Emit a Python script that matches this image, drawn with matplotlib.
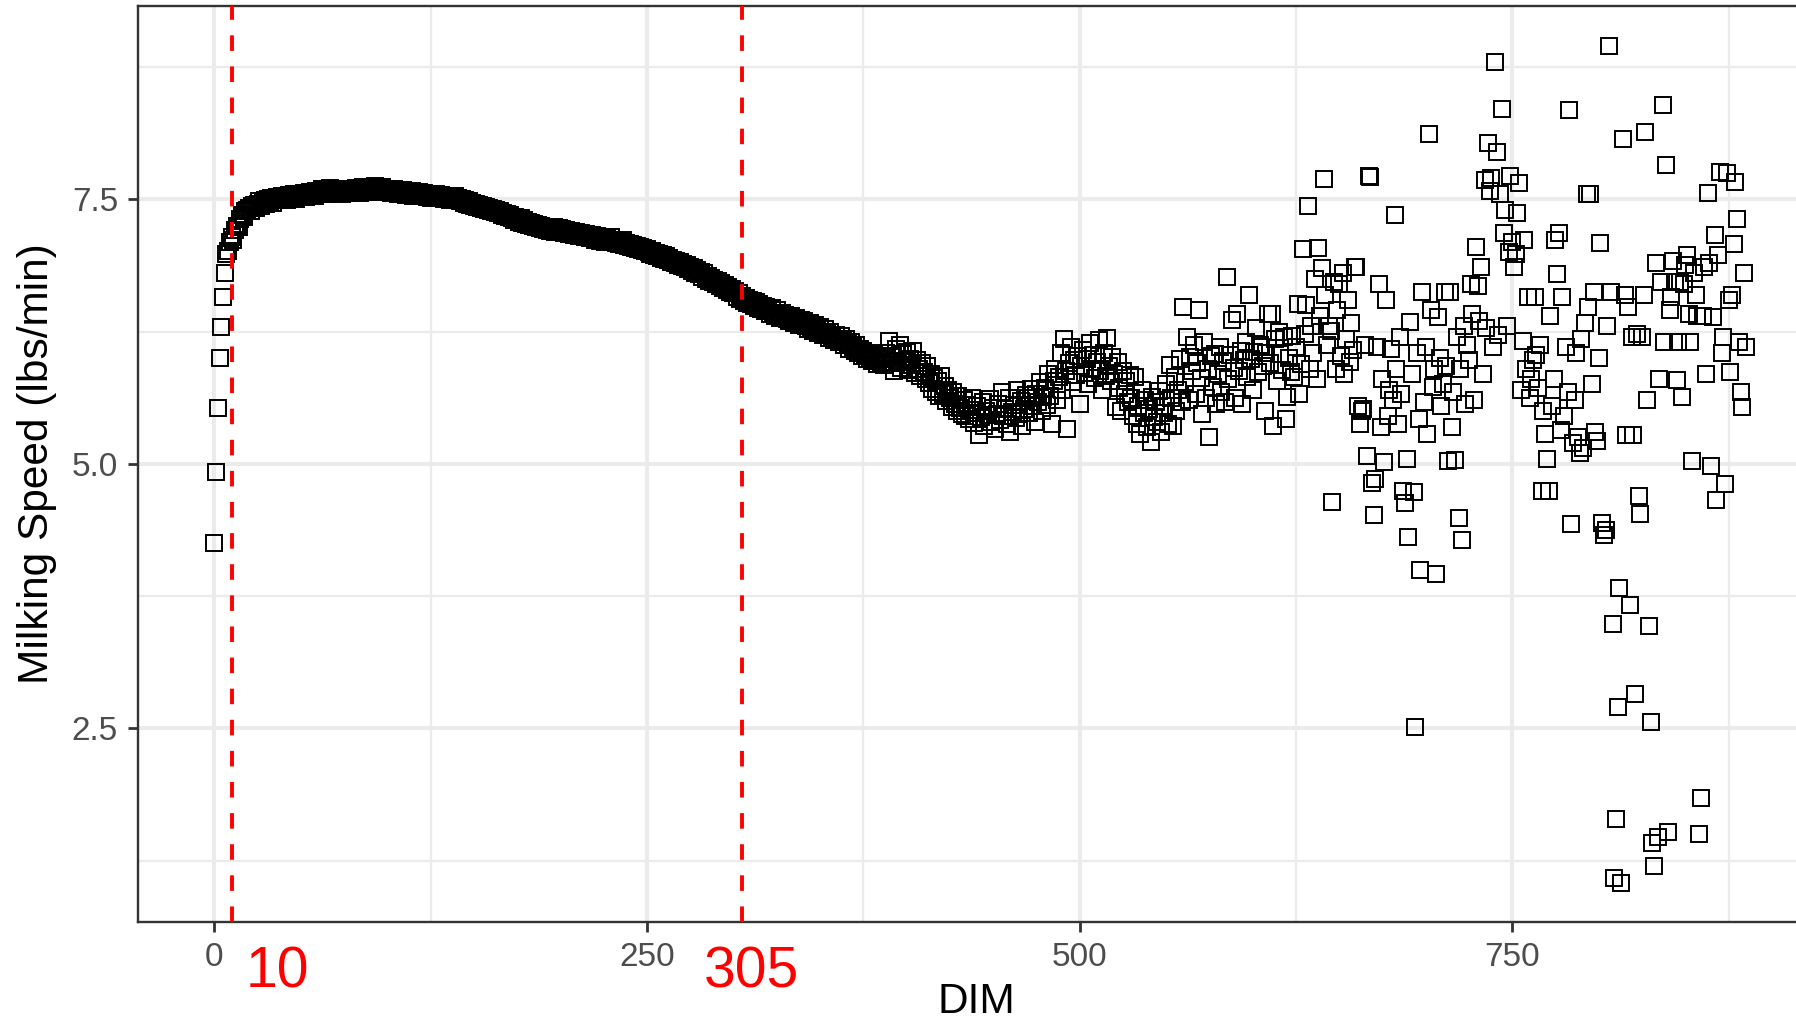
import numpy as np
import matplotlib
matplotlib.use("Agg")
from matplotlib import pyplot as plt
from matplotlib.transforms import blended_transform_factory

plt.rcParams["font.family"] = ["Liberation Sans", "DejaVu Sans"]

# milking speed (lbs/min), one record per DIM starting at 0
speed = [
    4.25, 4.92, 5.53, 6.00, 6.29, 6.58, 6.80, 6.98, 7.01, 7.10,
    7.14, 7.12, 7.21, 7.25, 7.24, 7.31, 7.35, 7.33, 7.39, 7.40,
    7.42, 7.39, 7.44, 7.45, 7.42, 7.46, 7.48, 7.44, 7.47, 7.49,
    7.46, 7.50, 7.48, 7.51, 7.47, 7.50, 7.52, 7.49, 7.51, 7.53,
    7.50, 7.52, 7.49, 7.54, 7.51, 7.53, 7.55, 7.50, 7.54, 7.52,
    7.55, 7.53, 7.56, 7.52, 7.55, 7.57, 7.54, 7.56, 7.53, 7.58,
    7.55, 7.57, 7.60, 7.56, 7.58, 7.55, 7.59, 7.61, 7.57, 7.58,
    7.60, 7.56, 7.59, 7.58, 7.55, 7.57, 7.59, 7.56, 7.58, 7.60,
    7.57, 7.59, 7.61, 7.58, 7.56, 7.60, 7.62, 7.59, 7.57, 7.60,
    7.58, 7.61, 7.59, 7.63, 7.60, 7.57, 7.59, 7.62, 7.58, 7.60,
    7.57, 7.59, 7.56, 7.58, 7.60, 7.57, 7.55, 7.58, 7.56, 7.59,
    7.56, 7.54, 7.57, 7.55, 7.58, 7.53, 7.56, 7.54, 7.57, 7.55,
    7.53, 7.56, 7.54, 7.52, 7.55, 7.51, 7.54, 7.52, 7.55, 7.53,
    7.51, 7.54, 7.52, 7.50, 7.53, 7.51, 7.49, 7.52, 7.50, 7.53,
    7.49, 7.51, 7.48, 7.50, 7.47, 7.49, 7.46, 7.48, 7.45, 7.47,
    7.44, 7.46, 7.43, 7.45, 7.42, 7.44, 7.41, 7.43, 7.40, 7.42,
    7.39, 7.41, 7.38, 7.40, 7.37, 7.39, 7.35, 7.37, 7.34, 7.36,
    7.33, 7.35, 7.32, 7.30, 7.33, 7.31, 7.29, 7.32, 7.28, 7.30,
    7.27, 7.29, 7.26, 7.28, 7.25, 7.27, 7.24, 7.26, 7.23, 7.25,
    7.22, 7.24, 7.21, 7.23, 7.20, 7.22, 7.24, 7.19, 7.21, 7.23,
    7.20, 7.22, 7.18, 7.21, 7.19, 7.17, 7.20, 7.18, 7.16, 7.19,
    7.17, 7.15, 7.18, 7.16, 7.14, 7.17, 7.15, 7.13, 7.16, 7.14,
    7.12, 7.15, 7.13, 7.11, 7.14, 7.12, 7.10, 7.13, 7.11, 7.14,
    7.10, 7.12, 7.09, 7.11, 7.08, 7.10, 7.12, 7.07, 7.09, 7.06,
    7.08, 7.05, 7.07, 7.04, 7.06, 7.03, 7.05, 7.02, 7.04, 7.01,
    7.03, 7.00, 6.98, 7.01, 6.97, 6.99, 6.96, 6.98, 6.95, 6.97,
    6.94, 6.96, 6.93, 6.95, 6.91, 6.93, 6.90, 6.92, 6.88, 6.91,
    6.87, 6.89, 6.86, 6.88, 6.84, 6.86, 6.82, 6.85, 6.80, 6.83,
    6.79, 6.81, 6.77, 6.80, 6.75, 6.78, 6.73, 6.76, 6.72, 6.74,
    6.70, 6.73, 6.68, 6.71, 6.66, 6.69, 6.64, 6.67, 6.62, 6.65,
    6.61, 6.63, 6.58, 6.61, 6.56, 6.59, 6.54, 6.57, 6.52, 6.55,
    6.51, 6.54, 6.49, 6.53, 6.47, 6.51, 6.46, 6.49, 6.44, 6.48,
    6.45, 6.42, 6.47, 6.43, 6.40, 6.45, 6.41, 6.38, 6.43, 6.39,
    6.41, 6.37, 6.35, 6.40, 6.36, 6.33, 6.38, 6.34, 6.31, 6.36,
    6.32, 6.35, 6.30, 6.27, 6.33, 6.29, 6.26, 6.31, 6.27, 6.24,
    6.29, 6.25, 6.22, 6.27, 6.23, 6.19, 6.25, 6.21, 6.17, 6.22,
    6.18, 6.15, 6.21, 6.16, 6.12, 6.18, 6.13, 6.09, 6.15, 6.10,
    6.07, 6.12, 6.05, 6.09, 6.02, 6.07, 6.03, 5.99, 6.05, 6.01,
    5.97, 6.03, 5.98, 5.94, 6.02, 5.96, 6.00, 5.93, 6.05, 5.99,
    6.16, 5.95, 6.02, 5.88, 6.09, 5.97, 6.12, 5.91, 6.04, 5.96,
    6.06, 5.89, 5.99, 5.93, 6.07, 5.86, 5.98, 5.90, 5.83, 5.95,
    5.87, 5.80, 5.92, 5.76, 5.85, 5.71, 5.81, 5.68, 5.78, 5.64,
    5.83, 5.66, 5.74, 5.59, 5.70, 5.62, 5.54, 5.68, 5.57, 5.50,
    5.64, 5.53, 5.47, 5.60, 5.45, 5.56, 5.42, 5.51, 5.62, 5.39,
    5.48, 5.55, 5.27, 5.44, 5.58, 5.36, 5.50, 5.46, 5.61, 5.40,
    5.53, 5.33, 5.47, 5.57, 5.41, 5.68, 5.45, 5.52, 5.38, 5.62,
    5.30, 5.49, 5.56, 5.43, 5.70, 5.47, 5.59, 5.36, 5.52, 5.65,
    5.62, 5.48, 5.71, 5.55, 5.40, 5.66, 5.58, 5.77, 5.50, 5.63,
    5.72, 5.56, 5.85, 5.64, 5.38, 5.78, 5.90, 5.60, 5.82, 6.05,
    5.70, 6.18, 5.88, 5.33, 5.95, 6.10, 5.77, 5.98, 5.84, 6.02,
    5.57, 5.92, 6.08, 5.86, 5.99, 5.75, 6.14, 5.90, 6.03, 5.81,
    5.96, 6.17, 5.88, 5.70, 6.05, 5.83, 6.19, 5.92, 5.78, 6.01,
    5.85, 5.54, 5.96, 5.72, 5.50, 5.88, 5.66, 5.78, 5.58, 5.84,
    5.62, 5.45, 5.82, 5.38, 5.55, 5.28, 5.70, 5.48, 5.60, 5.35,
    5.52, 5.21, 5.63, 5.44, 5.58, 5.40, 5.69, 5.30, 5.55, 5.48,
    5.75, 5.38, 5.93, 5.62, 5.36, 5.82, 5.50, 5.70, 5.99, 5.58,
    6.48, 5.77, 6.20, 5.60, 6.01, 5.88, 6.12, 5.66, 5.95, 6.45,
    5.81, 5.47, 6.15, 5.62, 5.90, 5.25, 6.02, 5.73, 6.04, 5.57,
    5.85, 6.10, 5.68, 5.97, 5.58, 6.77, 5.80, 6.03, 6.36, 5.91,
    5.62, 6.42, 5.88, 6.07, 5.57, 5.98, 6.15, 5.82, 6.60, 5.99,
    5.70, 6.06, 6.28, 5.87, 6.12, 6.10, 5.92, 5.50, 6.05, 6.42,
    5.95, 6.42, 5.36, 6.18, 5.78, 6.25, 6.04, 5.89, 6.20, 5.42,
    5.63, 6.00, 5.87, 6.21, 5.82, 6.10, 6.51, 5.66, 5.94, 7.03,
    6.23, 6.50, 7.44, 5.90, 6.30, 6.05, 6.75, 5.80, 7.04, 6.40,
    6.85, 7.69, 6.60, 6.12, 6.30, 6.26, 4.64, 6.72, 5.90, 6.45,
    6.70, 6.02, 6.80, 5.85, 6.18, 6.55, 5.96, 6.33, 6.08, 6.86,
    6.86, 5.55, 5.38, 5.50, 5.52, 6.12, 5.07, 7.72, 7.71, 4.82,
    4.52, 4.86, 6.10, 6.70, 5.35, 5.80, 5.02, 6.55, 5.45, 5.70,
    6.09, 5.60, 7.35, 5.90, 5.38, 6.20, 5.66, 4.74, 4.63, 5.05,
    4.31, 6.34, 5.85, 4.73, 2.51, 6.05, 5.42, 4.00, 6.62, 5.58,
    6.10, 5.28, 8.12, 6.45, 5.73, 5.90, 3.96, 6.39, 6.00, 5.55,
    5.75, 6.62, 5.92, 5.03, 6.62, 5.35, 5.68, 5.04, 6.20, 4.49,
    5.90, 4.28, 6.30, 5.57, 6.12, 5.98, 6.70, 6.42, 5.60, 7.05,
    6.68, 6.35, 6.86, 5.85, 7.68, 6.28, 8.03, 7.58, 7.70, 6.10,
    8.80, 7.95, 6.22, 7.55, 8.35, 7.18, 7.40, 6.30, 7.00, 7.72,
    7.10, 6.86, 6.98, 7.37, 7.65, 5.70, 6.16, 7.12, 5.90, 6.58,
    5.62, 5.80, 5.98, 6.58, 6.03, 5.72, 6.12, 4.74, 5.50, 5.28,
    5.05, 4.74, 6.40, 5.55, 5.80, 7.12, 6.79, 7.18, 5.32, 6.58,
    5.45, 6.10, 5.68, 8.34, 4.43, 5.20, 5.60, 6.05, 5.25, 5.10,
    6.18, 5.15, 6.33, 7.55, 6.48, 7.55, 5.75, 6.62, 5.30, 5.22,
    6.00, 7.09, 4.44, 4.33, 4.37, 6.30, 8.95, 6.62, 3.49, 1.09,
    1.64, 2.70, 3.83, 1.04, 8.07, 6.60, 5.27, 6.48, 3.67, 6.20,
    5.27, 2.82, 6.23, 4.70, 4.53, 6.20, 6.60, 8.14, 5.60, 3.47,
    2.56, 1.42, 1.20, 6.90, 1.47, 5.80, 6.72, 8.39, 6.15, 7.82,
    1.52, 6.45, 6.58, 6.92, 6.72, 5.79, 6.15, 6.72, 5.63, 6.70,
    6.88, 6.97, 6.42, 6.15, 5.03, 6.80, 6.60, 6.40, 1.50, 1.84,
    6.40, 6.86, 5.85, 7.56, 6.90, 4.98, 6.39, 7.16, 4.66, 6.97,
    7.76, 6.05, 6.20, 4.81, 7.75, 6.55, 5.87, 6.60, 7.08, 7.66,
    7.31, 6.15, 5.68, 5.54, 6.80, 6.10,
]
dim = np.arange(len(speed))

cut_days = [10, 305]
cut_labels = ["10", "305"]
cut_label_x = [18, 283]

x_major = [0, 250, 500, 750]
x_minor = [125, 375, 625, 875]
y_major = [2.5, 5.0, 7.5]
y_minor = [1.25, 3.75, 6.25, 8.75]

fig = plt.figure(figsize=(17.96, 10.22), dpi=100)
ax = fig.add_axes([0.0767, 0.0978, 0.938, 0.8963])

ax.plot(dim, speed, linestyle="none", marker="s", markersize=11.2,
        markerfacecolor="none", markeredgecolor="black",
        markeredgewidth=1.4, zorder=3)

for d in cut_days:
    ax.axvline(d, color="#FF0000", linewidth=2.8,
               linestyle=(0, (4, 4)), zorder=4)

ax.set_xlim(-44.25, 929.25)
ax.set_ylim(0.669, 9.327)

ax.set_xticks(x_major)
ax.set_xticks(x_minor, minor=True)
ax.set_yticks(y_major)
ax.set_yticks(y_minor, minor=True)
ax.set_yticklabels(["2.5", "5.0", "7.5"])

ax.grid(which="major", color="#EBEBEB", linewidth=2.9, zorder=0)
ax.grid(which="minor", color="#EBEBEB", linewidth=1.6, zorder=0)
ax.set_axisbelow(True)

ax.tick_params(which="major", length=7.2, width=2.0, color="#333333",
               labelcolor="#4D4D4D", labelsize=24, pad=7)
ax.tick_params(which="minor", length=0)

for sp in ax.spines.values():
    sp.set_color("#333333")
    sp.set_linewidth(1.7)

trans = blended_transform_factory(ax.transData, ax.transAxes)
for lab, lx in zip(cut_labels, cut_label_x):
    ax.text(lx, -0.071, lab, transform=trans, color="#FF0000",
            fontsize=41, ha="left", va="baseline")

fig.text(37 / 1796, 1 - 464 / 1022, "Milking Speed (lbs/min)",
         rotation=90, ha="center", va="center", fontsize=30.5)
fig.text(976 / 1796, 1 - 1013 / 1022, "DIM",
         ha="center", va="baseline", fontsize=30.5)

fig.savefig("out.png", dpi=100)
